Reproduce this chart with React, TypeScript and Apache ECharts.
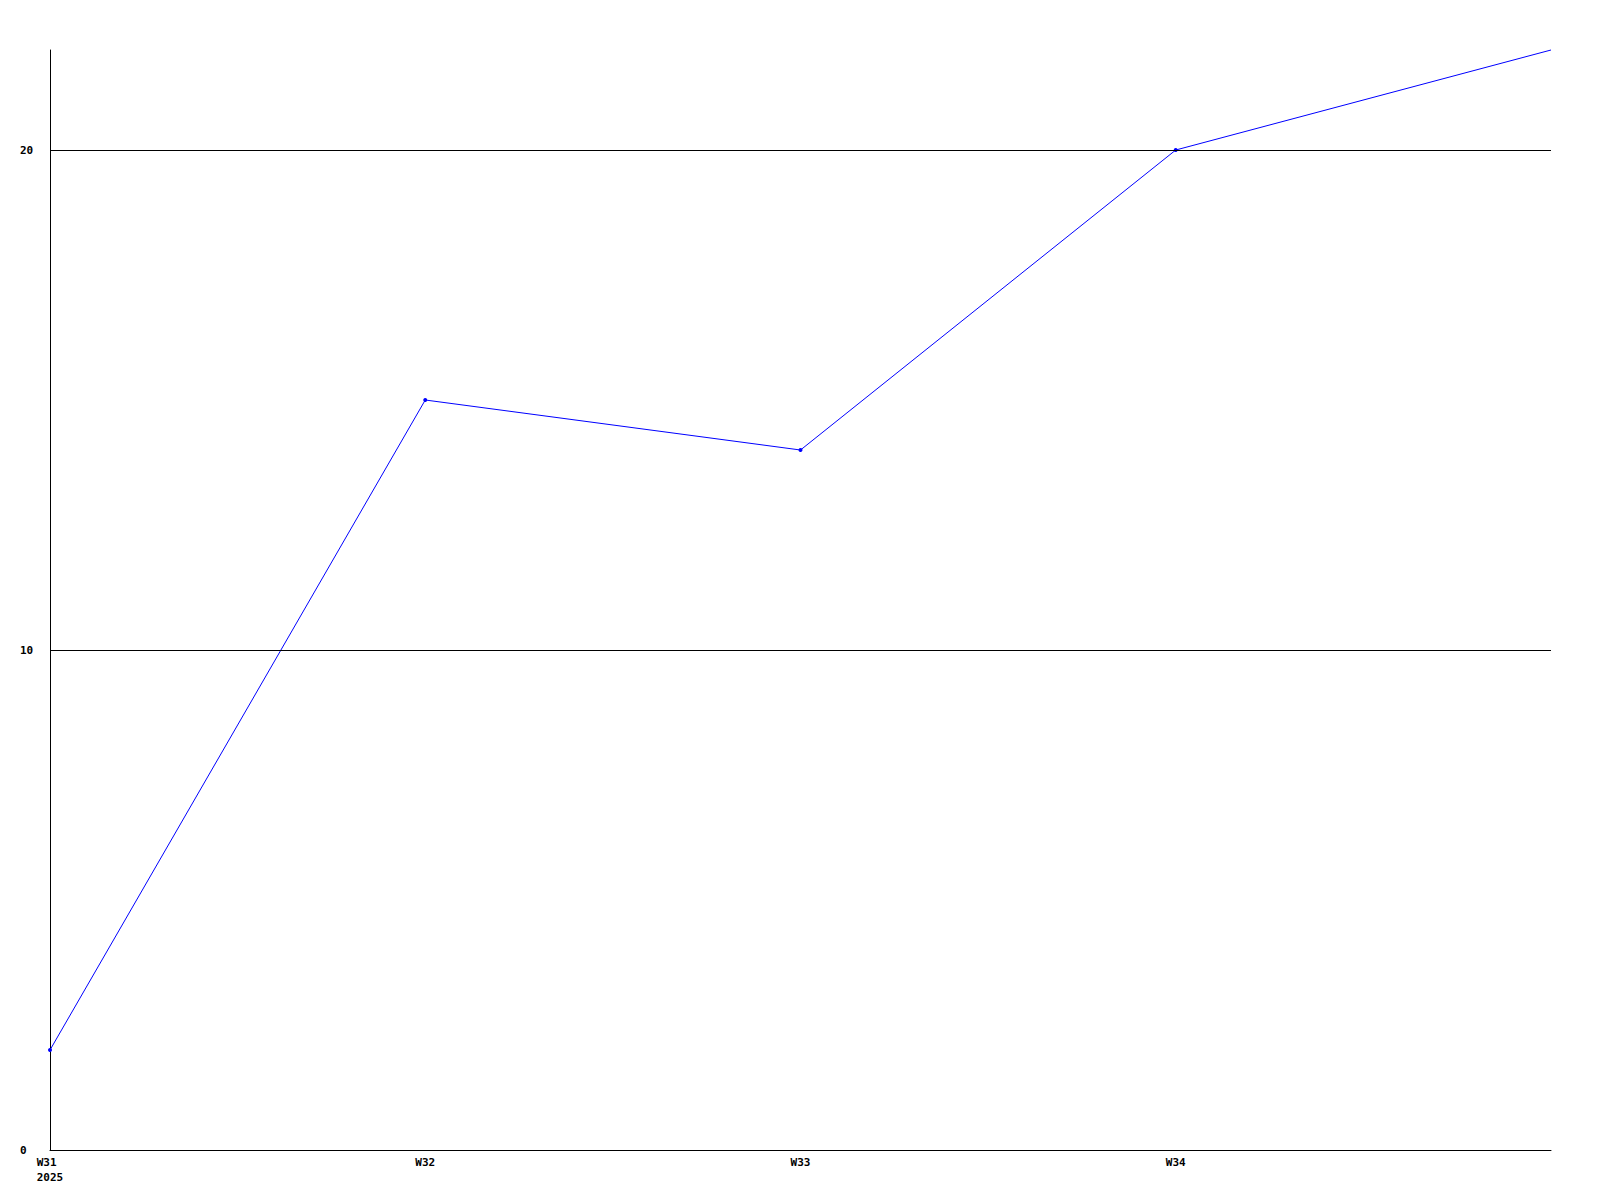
import React, { useEffect, useRef } from "react";
import * as echarts from "echarts";

const weeks = ["W31", "W32", "W33", "W34", "W35"];
const yearLabel = "2025";
const values = [2, 15, 14, 20, 22];
const gridLevels = [10, 20];
const yMax = 22;
const yInterval = 10;

export default function App() {
  const ref = useRef<HTMLDivElement>(null);
  useEffect(() => {
    document.body.style.margin = "0";
    if (!ref.current) return;
    const chart = echarts.init(ref.current, null, { renderer: "svg" });
    const font = { fontFamily: "DejaVu Sans Mono", fontWeight: "bold" as const, fontSize: 11, color: "#000" };
    chart.setOption({
      animation: false,
      backgroundColor: "#fff",
      grid: { left: 50, right: 49, top: 50, bottom: 50, containLabel: false },
      xAxis: {
        type: "category",
        data: weeks,
        boundaryGap: false,
        axisLine: { show: true, lineStyle: { color: "#000", width: 1 } },
        axisTick: { show: false },
        splitLine: { show: false },
        axisLabel: {
          ...font,
          margin: 5,
          lineHeight: 15,
          align: "center",
          formatter: (v: string, i: number) =>
            i === weeks.length - 1 ? "" : i === 0 ? `${v}\u00A0\n${yearLabel}` : v,
        },
      },
      yAxis: {
        type: "value",
        min: 0,
        max: yMax,
        interval: yInterval,
        axisLine: { show: true, lineStyle: { color: "#000", width: 1 } },
        axisTick: { show: false },
        splitLine: { show: false },
        axisLabel: {
          ...font,
          align: "left",
          margin: 30,
          formatter: (v: number) => (v === yMax ? "" : String(v)),
        },
      },
      series: [
        {
          type: "line",
          data: values.map((v, i) => ({
            value: v,
            symbolSize: i === values.length - 1 ? 0 : 4,
          })),
          symbol: "circle",
          showSymbol: true,
          lineStyle: { color: "#0000ff", width: 1 },
          itemStyle: { color: "#0000ff" },
          clip: false,
          markLine: {
            silent: true,
            symbol: "none",
            label: { show: false },
            lineStyle: { color: "#000", width: 1, type: "solid" },
            data: gridLevels.map((y) => ({ yAxis: y })),
            animation: false,
          },
        },
      ],
    });
    return () => chart.dispose();
  }, []);
  return <div ref={ref} style={{ width: 1600, height: 1200 }} />;
}
